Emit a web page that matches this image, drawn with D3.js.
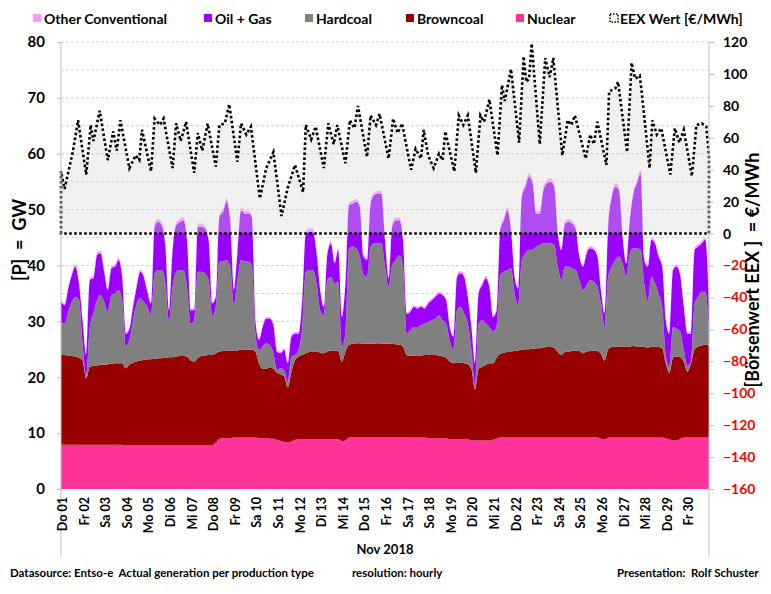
<!DOCTYPE html>
<html><head><meta charset="utf-8">
<script src="https://cdn.jsdelivr.net/npm/d3@7"></script>
<style>
html,body{margin:0;padding:0;background:#fff;}
svg{display:block;font-family:Lato,"Open Sans",sans-serif;font-weight:bold;}
</style></head><body>
<svg id="chart" width="771" height="594"></svg>
<script>
// ---------------- DATA ----------------
const dayLabels = ["Do 01","Fr 02","Sa 03","So 04","Mo 05","Di 06","Mi 07","Do 08","Fr 09","Sa 10",
  "So 11","Mo 12","Di 13","Mi 14","Do 15","Fr 16","Sa 17","So 18","Mo 19","Di 20",
  "Mi 21","Do 22","Fr 23","Sa 24","So 25","Mo 26","Di 27","Mi 28","Do 29","Fr 30"];
const seriesNames = ["Nuclear","Browncoal","Hardcoal","Oil + Gas","Other Conventional"];
const legendNames = ["Other Conventional","Oil + Gas","Hardcoal","Browncoal","Nuclear","EEX Wert [€/MWh]"];
// generation sampled every 4 hours (hour 0 .. 720), GW
const genHours = d3.range(0, 721, 4);
const nuclear = [
 7.9,7.9,7.9,7.9,7.9,7.9, 7.9,7.9,7.9,7.9,7.9,7.9, 7.9,7.9,7.9,7.9,7.9,7.9, 7.8,7.8,7.8,7.8,7.8,7.8,
 7.8,7.8,7.8,7.8,7.8,7.8, 7.8,7.8,7.8,7.8,7.8,7.8, 7.8,7.8,7.8,7.8,7.8,7.8, 7.8,8.3,9.0,9.1,9.1,9.1,
 9.2,9.2,9.2,9.2,9.2,9.2, 9.2,9.1,9.1,9.1,9.0,9.0, 8.8,8.6,8.4,8.3,8.5,8.8, 8.9,8.9,8.9,8.9,8.9,8.9,
 8.9,8.9,8.9,8.9,8.9,8.9, 8.6,8.7,9.2,9.3,9.3,9.3, 9.3,9.3,9.3,9.3,9.3,9.3, 9.3,9.3,9.3,9.3,9.3,9.3,
 9.2,9.2,9.2,9.2,9.2,9.2, 9.1,9.1,9.1,9.1,9.1,9.1, 8.9,8.9,8.9,8.9,8.9,8.9, 8.7,8.7,8.7,8.7,8.7,8.7,
 8.8,9.0,9.2,9.2,9.2,9.2, 9.2,9.2,9.2,9.2,9.2,9.2, 9.2,9.2,9.2,9.2,9.2,9.2, 9.2,9.2,9.2,9.2,9.2,9.2,
 9.2,9.2,9.2,9.2,9.2,9.2, 9.0,8.9,9.2,9.2,9.2,9.2, 9.2,9.2,9.2,9.2,9.2,9.2, 9.2,9.2,9.2,9.2,9.2,9.2,
 9.1,8.9,8.7,8.7,9.0,9.2, 9.2,9.2,9.2,9.2,9.2,9.2, 9.2];
const browncoal = [
 16.1,16.1,16.0,15.9,15.8,15.6, 15.1,11.9,14.0,14.1,14.2,14.3, 14.4,14.4,14.5,14.6,14.6,14.6,
 13.8,14.5,14.8,15.0,15.2,15.3, 15.4,15.4,15.5,15.6,15.6,15.7, 15.8,15.8,15.9,16.0,16.0,15.9,
 15.2,15.0,15.7,16.0,16.1,16.2, 16.2,16.0,15.6,15.6,15.6,15.7, 15.6,15.6,15.7,15.7,15.7,15.7,
 15.4,13.4,12.4,12.4,12.8,12.5, 12.0,11.9,11.8,9.9,12.5,14.2, 14.8,15.1,15.4,15.6,15.7,15.7,
 15.5,15.4,15.7,15.9,15.9,15.8, 14.2,15.8,16.6,16.7,16.8,16.8, 16.7,16.7,16.7,16.7,16.8,16.7,
 16.7,16.7,16.7,16.6,16.5,16.2, 14.8,14.6,14.7,14.6,14.7,14.8, 14.9,15.0,14.9,14.8,14.6,14.4,
 13.9,13.6,13.8,13.7,13.6,13.4, 12.8,9.1,12.8,13.2,13.5,13.8, 13.7,14.5,15.0,15.2,15.3,15.4,
 15.5,15.6,15.7,15.8,15.8,15.9, 16.0,16.0,16.1,16.2,16.2,16.1, 15.3,14.8,15.3,15.4,15.5,15.6,
 15.5,15.1,15.4,15.5,15.6,15.5, 15.2,14.1,15.8,16.2,16.3,16.3, 16.3,16.2,16.3,16.4,16.3,16.3,
 16.2,16.1,16.2,16.3,16.2,16.0, 13.4,11.9,14.8,15.0,14.6,13.6, 11.8,13.3,15.8,16.3,16.5,16.6, 16.4];
const hardcoal = [
 5.9,5.6,7.8,9.7,10.7,10.3, 3.1,0.5,7.1,9.4,11.7,12.5, 11.2,9.4,12.3,12.5,13.1,11.3,
 3.9,4.4,7.6,10.4,11.1,10.4, 9.4,7.9,15.3,15.8,15.8,13.3, 6.4,12.6,15.2,15.4,15.4,12.5,
 6.6,7.4,15.4,15.1,14.7,13.4, 7.0,8.3,16.1,16.0,16.3,15.0, 8.2,12.6,16.1,15.8,15.8,15.2,
 3.2,2.4,4.0,4.6,4.0,2.8, 0.5,1.1,1.1,1.0,2.7,1.0, 1.2,5.0,14.6,14.7,14.6,12.2,
 7.6,6.8,12.8,13.2,12.0,12.4, 2.7,3.3,17.3,17.4,17.0,15.5, 12.5,12.0,17.4,18.0,17.9,18.0,
 13.8,10.2,14.1,15.1,16.1,14.3, 3.8,4.6,5.1,5.2,5.4,5.6, 5.9,6.1,6.5,7.2,6.5,6.1,
 3.7,2.5,9.3,10.0,8.9,7.3, 3.4,0.7,8.1,8.3,7.4,6.5, 5.7,5.5,14.1,14.5,14.7,14.9,
 10.3,8.2,16.1,17.2,17.8,17.7, 18.2,18.5,18.7,18.6,18.6,18.4, 15.3,13.4,15.3,15.2,14.8,14.4,
 12.7,11.3,11.9,12.7,12.3,11.5, 9.0,6.0,13.0,14.4,15.5,16.1, 14.9,12.6,16.7,17.5,17.6,17.3,
 11.4,8.5,12.6,11.3,9.6,7.4, 1.5,1.2,5.5,5.0,4.6,2.1, 1.0,0.5,8.2,8.9,9.6,9.5, 2.4];
const oilGas = [
 3.6,3.3,4.2,4.8,5.4,3.0, 4.1,3.7,8.4,6.3,8.1,7.5, 5.4,3.9,4.8,4.8,5.4,4.2,
 2.3,2.0,2.4,3.0,4.8,4.5, 2.7,2.1,8.4,8.6,8.0,6.6, 2.0,6.6,8.3,8.6,8.9,8.4,
 2.4,1.8,8.1,8.1,8.0,7.2, 2.2,1.8,8.0,8.9,10.4,8.3, 2.6,4.8,8.9,8.6,8.6,8.6,
 2.4,1.8,3.5,4.4,4.7,5.0, 3.3,2.7,3.6,3.3,3.6,3.8, 2.9,4.8,6.9,6.9,6.9,5.4,
 3.6,1.5,4.8,6.0,3.6,5.7, 5.3,9.0,7.7,7.7,8.3,8.9, 3.1,3.0,7.7,8.6,8.9,8.9,
 4.8,1.5,6.9,7.1,6.2,4.8, 3.6,3.3,3.6,3.3,3.3,2.7, 3.3,3.6,3.9,3.9,4.5,4.2,
 2.5,2.3,6.0,6.0,6.6,4.8, 4.1,4.0,5.4,6.3,8.1,7.2, 2.6,3.0,8.1,9.2,10.7,6.9,
 3.0,2.9,11.3,11.9,13.1,11.9, 5.9,5.6,9.5,10.7,11.0,10.4, 6.0,5.4,7.7,8.0,8.0,7.2,
 4.2,4.2,5.7,5.7,5.7,5.4, 2.4,2.4,9.0,12.5,13.1,11.9, 4.8,2.4,5.9,9.8,11.6,13.7,
 4.2,6.0,6.6,7.2,6.6,7.2, 6.2,5.8,10.2,11.1,10.1,7.7, 5.8,4.8,9.6,9.0,8.7,9.3, 5.0];
const otherConv = [
 .3,.3,.4,.4,.4,.3, .3,.3,.4,.4,.5,.4, .4,.3,.4,.4,.4,.3, .3,.3,.3,.3,.4,.4, .3,.3,.5,.5,.5,.4,
 .3,.4,.5,.5,.5,.4, .3,.3,.5,.5,.5,.4, .3,.3,.5,.5,.6,.5, .3,.4,.5,.5,.5,.5, .3,.3,.3,.3,.3,.3,
 .3,.3,.3,.3,.3,.3, .3,.3,.5,.5,.5,.4, .3,.3,.4,.4,.4,.4, .3,.4,.5,.5,.5,.5, .4,.4,.5,.5,.5,.5,
 .4,.3,.5,.5,.5,.4, .3,.3,.3,.3,.3,.3, .3,.3,.3,.3,.3,.3, .3,.3,.4,.4,.4,.3, .3,.3,.4,.4,.4,.4,
 .3,.3,.5,.5,.5,.4, .3,.3,.5,.6,.6,.6, .5,.5,.5,.6,.6,.5, .4,.4,.5,.5,.5,.5, .4,.4,.4,.4,.4,.4,
 .3,.3,.5,.5,.6,.6, .4,.3,.5,.5,.6,.6, .4,.4,.4,.4,.4,.4, .3,.3,.4,.4,.4,.3, .3,.3,.4,.4,.4,.4, .3];
// EEX day-ahead price, €/MWh (turning points, hour of month)
const eexHours = [0,4,13,19,28,33,36,43,52,58,62,66,76,83,87,90,100,104,110,114,124,128,133,139,148,152,157,163,
 172,176,182,187,196,200,206,211,221,228,236,245,252,260,269,272,278,283,292,297,303,307,316,321,326,330,
 340,344,350,354,364,369,374,379,389,394,400,403,408,414,420,424,427,437,442,447,452,461,466,470,476,
 485,490,493,500,509,514,517,520,523,532,538,543,547,557,563,567,571,583,588,592,596,606,609,616,619,
 629,634,638,643,645,654,657,662,667,677,682,687,692,701,706,712,717,720];
const eexValues = [39,28,51,71,37,68,58,77,46,64,52,71,41,49,46,65,39,72,68,72,41,69,58,70,38,63,52,69,
 42,68,69,81,45,69,62,67,22,41,51,11,29,43,26,68,59,67,41,69,56,68,44,71,66,80,
 48,74,68,75,47,72,63,69,40,53,47,65,49,41,50,46,64,39,74,68,74,38,74,70,84,
 49,93,83,103,57,111,95,97,119,56,110,98,110,49,71,68,74,47,62,56,70,43,89,91,95,
 51,107,97,99,90,41,71,62,66,37,66,57,65,36,68,69,67,49];
const leftTicks = [0,10,20,30,40,50,60,70,80];
const rightTicks = [-160,-140,-120,-100,-80,-60,-40,-20,0,20,40,60,80,100,120];
const gridTicks = [5,10,15,20,25,30,35,40,45,50,55,60,65,70,75,80];

const colors = {"Other Conventional":"#ff99ff","Oil + Gas":"#9900ff","Hardcoal":"#808080",
  "Browncoal":"#990000","Nuclear":"#ff3399"};

// ---------------- CHART ----------------
const svg = d3.select("#chart");
const P = {l:61, r:709, t:42, b:489};
const x = d3.scaleLinear().domain([0,720]).range([P.l,P.r]);
const yL = d3.scaleLinear().domain([0,80]).range([P.b,P.t]);
const yR = d3.scaleLinear().domain([-160,120]).range([P.b,P.t]);

// gridlines
svg.append("g").selectAll("line").data(gridTicks).join("line")
  .attr("x1",P.l).attr("x2",P.r).attr("y1",d=>yL(d)).attr("y2",d=>yL(d))
  .attr("stroke","#d4d4d4").attr("stroke-width",1).attr("stroke-dasharray","3,2");

// stacked areas
const cols = {"Nuclear":nuclear,"Browncoal":browncoal,"Hardcoal":hardcoal,"Oil + Gas":oilGas,"Other Conventional":otherConv};
const rows = genHours.map((h,i)=>{const r={h}; seriesNames.forEach(k=>r[k]=cols[k][i]); return r;});
const layers = d3.stack().keys(seriesNames)(rows);
const area = d3.area().x(d=>x(d.data.h)).y0(d=>yL(d[0])).y1(d=>yL(d[1])).curve(d3.curveMonotoneX);
svg.append("g").selectAll("path").data(layers).join("path")
  .attr("d",area).attr("fill",d=>colors[d.key]);

// EEX area
const eex = eexHours.map((h,i)=>({h, v:eexValues[i]}));
const eexArea = d3.area().x(d=>x(d.h)).y0(yR(0)).y1(d=>yR(d.v));
svg.append("path").datum(eex).attr("d",eexArea).attr("fill","rgba(214,214,214,0.36)");
const outlinePts = [{h:0,v:0}].concat(eex).concat([{h:720,v:0}]);
const line = d3.line().x(d=>x(d.h)).y(d=>yR(d.v));
svg.append("path").attr("d",line(outlinePts)+"Z").attr("fill","none")
  .attr("stroke","#000").attr("stroke-width",2.6).attr("stroke-dasharray","2.6,2.4");

// axis lines
const axisCol = "#bfbfbf";
svg.append("line").attr("x1",P.l).attr("x2",P.l).attr("y1",P.t).attr("y2",557).attr("stroke",axisCol);
svg.append("line").attr("x1",P.r).attr("x2",P.r).attr("y1",P.t).attr("y2",557).attr("stroke",axisCol);

// left axis
const gL = svg.append("g").attr("transform",`translate(${P.l},0)`)
  .call(d3.axisLeft(yL).tickValues(leftTicks).tickSize(4).tickPadding(12).tickFormat(d3.format("d")));
gL.select(".domain").remove();
gL.selectAll(".tick line").attr("stroke",axisCol);
gL.selectAll(".tick text").attr("fill","#000").style("font-size","15px").style("font-weight","bold")
  .style("font-family","Lato, sans-serif");

// right axis
const gR = svg.append("g").attr("transform",`translate(${P.r},0)`)
  .call(d3.axisRight(yR).tickValues(rightTicks).tickSize(5).tickPadding(9).tickFormat(d3.format("d")));
gR.select(".domain").remove();
gR.selectAll(".tick line").attr("stroke",axisCol);
gR.selectAll(".tick text").attr("fill",d=>d<0?"#ff0000":"#000").style("font-size","14px")
  .style("font-weight","bold").style("font-family","Lato, sans-serif");

// x axis day labels
svg.append("g").selectAll("text").data(dayLabels).join("text")
  .attr("transform",(d,i)=>`translate(${x(i*24)+6},497) rotate(-90)`)
  .attr("text-anchor","end").style("font-size","12.5px").attr("fill","#000").text(d=>d);

// axis titles
svg.append("text").attr("transform","translate(26,240) rotate(-90)").attr("text-anchor","middle")
  .style("font-size","18px").attr("fill","#000").style("white-space","pre").text("[P]  =  GW");
svg.append("text").attr("transform","translate(759,270) rotate(-90)").attr("text-anchor","middle")
  .style("font-size","18px").attr("fill","#000").style("white-space","pre").text("[Börsenwert EEX ]  = €/MWh");
svg.append("text").attr("x",385).attr("y",554).attr("text-anchor","middle")
  .style("font-size","13px").attr("fill","#000").text("Nov 2018");

// footer
const foot = [["Datasource: Entso-e  Actual generation per production type",10],["resolution: hourly",352],["Presentation:  Rolf Schuster",617]];
svg.append("g").selectAll("text").data(foot).join("text").attr("x",d=>d[1]).attr("y",577)
  .style("font-size","11.5px").style("white-space","pre").attr("fill","#000").text(d=>d[0]);

// legend
const legX = [33,204,305,406,516,609];
const lg = svg.append("g").selectAll("g").data(legendNames).join("g")
  .attr("transform",(d,i)=>`translate(${legX[i]},0)`);
lg.each(function(d){
  const g = d3.select(this);
  if (d.startsWith("EEX")) {
    g.append("rect").attr("x",1).attr("y",14).attr("width",8).attr("height",8).attr("fill","#f2f2f2")
      .attr("stroke","#000").attr("stroke-width",1.5).attr("stroke-dasharray","1.5,1.5");
  } else {
    g.append("rect").attr("x",0).attr("y",14).attr("width",8).attr("height",8).attr("fill",colors[d]);
  }
  g.append("text").attr("x",11).attr("y",23.5).style("font-size","14px").attr("fill","#000").text(d);
});
</script>
</body></html>
